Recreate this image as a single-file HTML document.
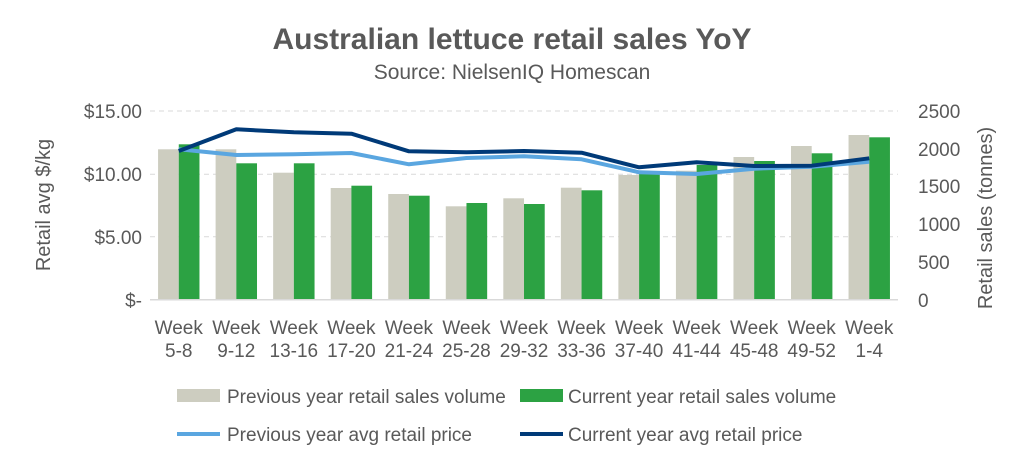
<!DOCTYPE html>
<html><head><style>
body{margin:0;background:#fff;}
svg text{font-family:"Liberation Sans",sans-serif;fill:#595959;}
</style></head><body>
<svg width="1024" height="464" viewBox="0 0 1024 464" xmlns="http://www.w3.org/2000/svg">
<text x="512" y="49" text-anchor="middle" font-size="30" font-weight="bold">Australian lettuce retail sales YoY</text>
<text x="512" y="79" text-anchor="middle" font-size="21">Source: NielsenIQ Homescan</text>
<g stroke="#d9d9d9" stroke-width="1" stroke-dasharray="5,4">
<line x1="150" y1="111" x2="898" y2="111"/>
<line x1="150" y1="174.3" x2="898" y2="174.3"/>
<line x1="150" y1="236.7" x2="898" y2="236.7"/>
</g>
<g id="bars"></g>
<line x1="150" y1="299.7" x2="898" y2="299.7" stroke="#d9d9d9" stroke-width="1.5"/>
<polyline id="lp" fill="none" stroke="#5aa6e0" stroke-width="4" stroke-linejoin="round"/>
<polyline id="dp" fill="none" stroke="#003a78" stroke-width="4" stroke-linejoin="round"/>
<g font-size="19" text-anchor="end">
<text x="142" y="118">$15.00</text>
<text x="142" y="181">$10.00</text>
<text x="142" y="244">$5.00</text>
<text x="142" y="307">$-</text>
</g>
<g font-size="19" text-anchor="start">
<text x="918" y="118">2500</text>
<text x="918" y="156">2000</text>
<text x="918" y="193">1500</text>
<text x="918" y="231">1000</text>
<text x="918" y="269">500</text>
<text x="918" y="307">0</text>
</g>
<text transform="translate(50,205) rotate(-90)" text-anchor="middle" font-size="20">Retail avg $/kg</text>
<text transform="translate(992,218) rotate(-90)" text-anchor="middle" font-size="20">Retail sales (tonnes)</text>
<g id="xl" font-size="19" text-anchor="middle"></g>
<rect x="177" y="389" width="43" height="13" fill="#cdcdc0"/>
<text x="227" y="403" font-size="19">Previous year retail sales volume</text>
<rect x="520" y="389" width="43" height="13" fill="#2ca243"/>
<text x="568" y="403" font-size="19">Current year retail sales volume</text>
<line x1="177" y1="434" x2="220" y2="434" stroke="#5aa6e0" stroke-width="4"/>
<text x="227" y="441" font-size="19">Previous year avg retail price</text>
<line x1="520" y1="434" x2="563" y2="434" stroke="#003a78" stroke-width="4"/>
<text x="568" y="441" font-size="19">Current year avg retail price</text>
</svg>
<script>
var g=[149.3,149.3,172.7,188,194,206.3,198.3,187.7,175,170.7,157,146,135];
var c=[144.3,163.3,163.3,185.7,195.7,203,204,190.3,173,165,161,153.3,137.3];
var d=[151,129.3,132.3,133.7,151.3,152.3,151,152.7,167.3,162.3,166,165.7,158.3];
var l=[149.3,155,154.3,153,164.3,158,156.3,159.3,172.3,174,168.7,166.7,161.7];
var lab=["5-8","9-12","13-16","17-20","21-24","25-28","29-32","33-36","37-40","41-44","45-48","49-52","1-4"];
var ns="http://www.w3.org/2000/svg",b=document.getElementById("bars"),xl=document.getElementById("xl");
var dp=[],lp=[];
function r(x0,y,f){var e=document.createElementNS(ns,"rect");e.setAttribute("x",x0);e.setAttribute("y",y);e.setAttribute("width",20.7);e.setAttribute("height",299.7-y);e.setAttribute("fill",f);b.appendChild(e);}
for(var i=0;i<13;i++){var x=150+57.54*(i+0.5);
r(x-20.7,g[i],"#cdcdc0");r(x,c[i],"#2ca243");
dp.push(x+","+d[i]);lp.push(x+","+l[i]);
var t=document.createElementNS(ns,"text");t.setAttribute("x",x);t.setAttribute("y",334);t.textContent="Week";xl.appendChild(t);
t=document.createElementNS(ns,"text");t.setAttribute("x",x);t.setAttribute("y",357);t.textContent=lab[i];xl.appendChild(t);}
document.getElementById("dp").setAttribute("points",dp.join(" "));
document.getElementById("lp").setAttribute("points",lp.join(" "));
</script>
</body></html>
